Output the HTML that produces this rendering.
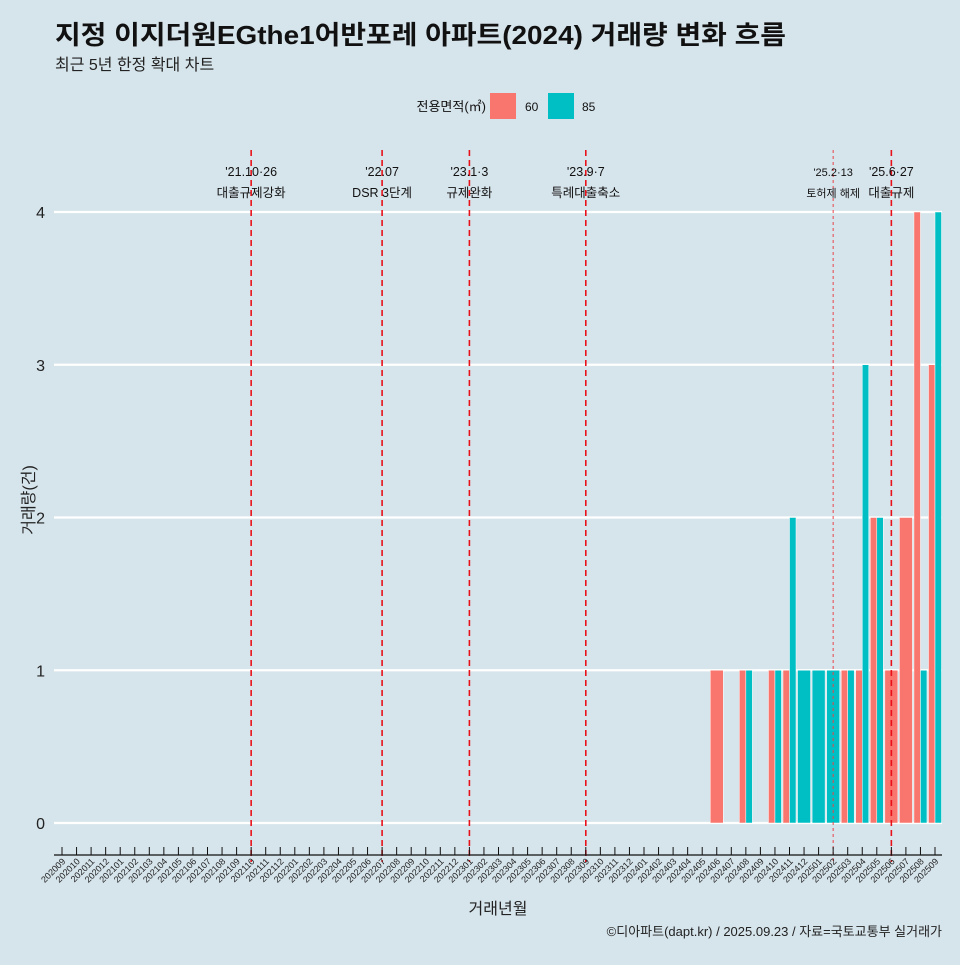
<!DOCTYPE html>
<html><head><meta charset="utf-8"><style>
html,body{margin:0;padding:0;background:#d6e4eb;}
svg text{font-family:"Liberation Sans","Noto Sans CJK KR",sans-serif;}
</style></head><body>
<svg id="chart" width="960" height="960" viewBox="0 0 960 960" xmlns="http://www.w3.org/2000/svg">
<rect width="960" height="960" fill="#d6e4eb"/>
<text x="55" y="44" font-size="26" font-weight="bold" fill="#111" textLength="731" lengthAdjust="spacingAndGlyphs">지정 이지더원EGthe1어반포레 아파트(2024) 거래량 변화 흐름</text>
<text x="55" y="70" font-size="16" fill="#222">최근 5년 한정 확대 차트</text>
<g>
<text x="486" y="111" font-size="13" text-anchor="end" fill="#111">전용면적(㎡)</text>
<rect x="490" y="93" width="26" height="26" fill="#f8766d"/>
<text x="525" y="111" font-size="12" fill="#111">60</text>
<rect x="548" y="93" width="26" height="26" fill="#00bfc4"/>
<text x="582" y="111" font-size="12" fill="#111">85</text>
</g>
<g id="grid"></g><g id="bars"></g><g id="events"></g><g id="xaxis"></g>
<text transform="translate(34,500) rotate(-90)" font-size="16" text-anchor="middle" fill="#222">거래량(건)</text>
<text x="498" y="914" font-size="16" text-anchor="middle" fill="#222">거래년월</text>
<text x="942" y="936" font-size="13" text-anchor="end" fill="#222">©디아파트(dapt.kr) / 2025.09.23 / 자료=국토교통부 실거래가</text>
</svg>
<script>
const months = [];
for (let y = 2020, m = 9; !(y === 2025 && m === 10); ) { months.push(String(y) + String(m).padStart(2, '0')); m++; if (m > 12) { m = 1; y++; } }
const barMonths = ['202406','202408','202410','202411','202412','202501','202502','202503','202504','202505','202506','202507','202508','202509'];
const values60 = [1,1,1,1,0,0,0,1,1,2,1,2,4,3];
const values85 = [0,1,1,2,1,1,1,1,3,2,0,0,1,4];
const yTicks = [0,1,2,3,4];
const eventMonths = ['202110','202207','202301','202309','202502','202506'];
const eventDates = ["'21.10·26","'22.07","'23.1·3","'23.9·7","'25.2·13","'25.6·27"];
const eventLabels = ['대출규제강화','DSR 3단계','규제완화','특례대출축소','토허제 해제','대출규제'];

const NS = 'http://www.w3.org/2000/svg';
const x0 = 62, step = 14.55, bw = 13;
const xs = i => x0 + i * step;
const xm = m => xs(months.indexOf(m));
const y = v => 823 - v * 152.75;
function mk(tag, attrs, parent) { const e = document.createElementNS(NS, tag); for (const k in attrs) e.setAttribute(k, attrs[k]); parent.appendChild(e); return e; }
const grid = document.getElementById('grid'), bars = document.getElementById('bars'), ev = document.getElementById('events'), xa = document.getElementById('xaxis');
yTicks.forEach(t => {
  const l = mk('line', {x1: 54, x2: 942, y1: y(t), y2: y(t), stroke: '#fff', 'stroke-width': 2.2}, grid);
  
  
  const tx = mk('text', {x: 45, y: y(t) + 6, 'font-size': 16, 'text-anchor': 'end', fill: '#222'}, grid);
  tx.textContent = t;
  
  
});
barMonths.forEach((m, i) => {
  const cx = xm(m), a = values60[i], b = values85[i];
  const both = a > 0 && b > 0;
  const w = both ? bw / 2 : bw;
  if (a > 0) {
    const r = mk('rect', {x: both ? cx - bw / 2 : cx - bw / 2, y: y(a), width: w, height: y(0) - y(a), fill: '#f8766d', stroke: '#fff', 'stroke-width': 0.5}, bars);
    
    
  }
  if (b > 0) {
    const r = mk('rect', {x: both ? cx : cx - bw / 2, y: y(b), width: w, height: y(0) - y(b), fill: '#00bfc4', stroke: '#fff', 'stroke-width': 0.5}, bars);
    
    
  }
});
eventMonths.forEach((m, i) => {
  const x = xm(m), thin = m === '202502';
  const l = mk('line', {x1: x, x2: x, y1: 150, y2: 862, stroke: thin ? '#e8454a' : '#e8111a', 'stroke-width': thin ? 1 : 1.6, 'stroke-dasharray': thin ? '3,3' : '6,4'}, ev);
  
  
  const fs = thin ? 11 : 12.5;
  const t1 = mk('text', {x: x, y: 176, 'font-size': fs, 'text-anchor': 'middle', fill: '#111'}, ev);
  t1.textContent = eventDates[i];
  
  
  const t2 = mk('text', {x: x, y: 197, 'font-size': fs, 'text-anchor': 'middle', fill: '#111'}, ev);
  t2.textContent = eventLabels[i];
  
  
});
const ax = mk('line', {x1: 54, x2: 942, y1: 855, y2: 855, stroke: '#111', 'stroke-width': 1.2}, xa);


months.forEach((m, i) => {
  const x = xs(i);
  const tk = mk('line', {x1: x, x2: x, y1: 847, y2: 855, stroke: '#111', 'stroke-width': 1}, xa);
  
  
  const t = mk('text', {transform: 'translate(' + (x + 4) + ',862) rotate(-45)', 'font-size': 9, 'text-anchor': 'end', fill: '#222'}, xa);
  t.textContent = m;
  
  
});
</script>
</body></html>
